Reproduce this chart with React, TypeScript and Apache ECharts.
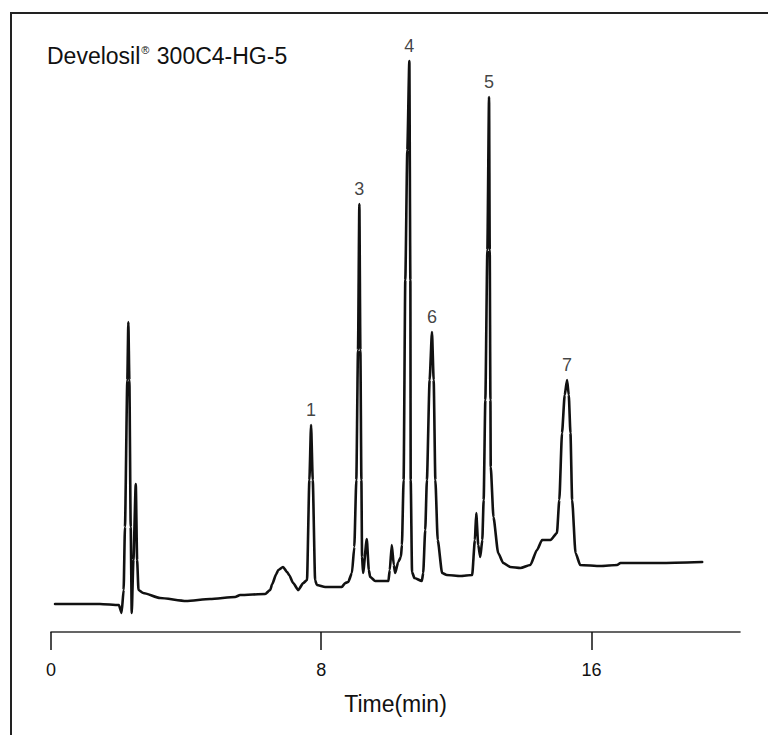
import React, { useEffect, useRef } from "react";
import * as echarts from "echarts";

// Chromatogram trace: retention time (min) and detector signal (arbitrary units)
const timeMin: number[] = [
  0.12, 1.45, 2.01, 2.09, 2.15, 2.19, 2.26, 2.29, 2.32, 2.36, 2.39, 2.44, 2.51, 2.55, 2.59,
  2.73, 3.23, 4.0, 4.71, 5.45, 5.6, 6.34, 6.49, 6.55, 6.67, 6.73, 6.87, 6.99, 7.05, 7.17,
  7.32, 7.47, 7.58, 7.65,
  7.7, 7.75, 7.82, 7.87, 8.12, 8.61, 8.71, 8.8, 8.91, 8.98, 9.04, 9.09, 9.13, 9.16, 9.19,
  9.21, 9.24, 9.35, 9.41, 9.45, 9.6, 9.99, 10.03, 10.09, 10.15, 10.19, 10.28, 10.36, 10.39,
  10.44, 10.49, 10.55, 10.61, 10.64, 10.65, 10.69, 10.76, 10.98, 11.02, 11.08, 11.13, 11.21,
  11.28, 11.33, 11.38, 11.45, 11.58, 11.72, 12.12, 12.47, 12.55, 12.59, 12.65, 12.71, 12.77,
  12.81, 12.86, 12.92, 12.97, 12.99, 13.01, 13.02, 13.1, 13.24, 13.39, 13.6, 13.9, 14.19,
  14.39, 14.54, 14.79, 14.98, 15.05, 15.13, 15.21, 15.28, 15.33, 15.38, 15.43, 15.53, 15.67,
  16.27, 16.76, 16.86, 18.04, 19.28,
];
const signal: number[] = [
  28, 28, 27, 19, 42, 105, 252, 310, 252, 105, 19, 72, 148, 72, 42,
  39, 34, 31, 33, 35, 37, 38, 42, 48, 58, 62, 65, 60, 57, 49,
  42, 49, 52, 152,
  207, 152, 52, 47, 45, 45, 49, 50, 59, 85, 152, 282, 428, 282, 152,
  75, 59, 93, 62, 55, 51, 51, 62, 87, 67, 59, 70, 75, 87,
  152, 352, 482, 571, 352, 152, 60, 54, 51, 59, 102, 152, 252,
  300, 252, 152, 92, 59, 57, 56, 57, 92, 119, 87, 75, 92,
  132, 232, 382, 535, 382, 232, 165, 115, 79, 69, 65, 64, 67,
  82, 92, 92, 99, 132, 199, 237, 252, 237, 199, 132, 79, 67,
  66, 67, 69, 69, 70,
];

// Numbered peaks
const peakNames: string[] = ["1", "3", "4", "5", "6", "7"];
const peakTimes: number[] = [7.7, 9.13, 10.61, 12.97, 11.28, 15.28];
const peakHeights: number[] = [207, 428, 571, 535, 300, 252];

const xTicks: number[] = [0, 8, 16];

const FONT = "'Liberation Sans', Arial, Helvetica, sans-serif";

export default function App() {
  const ref = useRef<HTMLDivElement>(null);

  useEffect(() => {
    if (!ref.current) return;
    const chart = echarts.init(ref.current, undefined, { renderer: "svg" });
    const lineData = timeMin.map((t, i) => [t, signal[i]]);
    const peakData = peakTimes.map((t, i) => ({ value: [t, peakHeights[i]], name: peakNames[i] }));

    chart.setOption({
      animation: false,
      backgroundColor: "#ffffff",
      title: {
        text: "Develosil{sup|®} 300C4-HG-5",
        left: 47,
        top: 44,
        padding: 0,
        textStyle: {
          fontFamily: FONT,
          fontSize: 23,
          fontWeight: "normal",
          color: "#111",
          rich: {
            sup: { fontFamily: FONT, fontSize: 11, color: "#111", verticalAlign: "top", padding: [0, 1, 10, 1] },
          },
        },
      },
      graphic: [
        {
          type: "rect",
          shape: { x: 11, y: 13, width: 800, height: 800 },
          style: { fill: "none", stroke: "#222", lineWidth: 2 },
          silent: true,
        },
      ],
      grid: { left: 51, right: 28, top: 12, bottom: 103 },
      xAxis: {
        type: "value",
        min: 0,
        max: 20.4,
        interval: 8,
        name: "Time(min)",
        nameLocation: "middle",
        nameGap: 60,
        nameTextStyle: { fontFamily: FONT, fontSize: 23, color: "#111" },
        axisLine: { show: true, onZero: false, lineStyle: { color: "#333", width: 1.6 } },
        axisTick: { show: true, length: 18, customValues: xTicks, lineStyle: { color: "#111", width: 1.5 } },
        axisLabel: {
          customValues: xTicks,
          margin: 29,
          fontFamily: FONT,
          fontSize: 18,
          color: "#111",
        },
        splitLine: { show: false },
      },
      yAxis: {
        type: "value",
        min: 0,
        max: 620,
        show: false,
        splitLine: { show: false },
      },
      series: [
        {
          type: "line",
          data: lineData,
          showSymbol: false,
          symbol: "none",
          smooth: 0.2,
          smoothMonotone: "x",
          lineStyle: { color: "#111", width: 2.6, join: "round", cap: "round" },
          z: 3,
        },
        {
          type: "scatter",
          data: peakData,
          symbolSize: 0,
          label: {
            show: true,
            position: "top",
            distance: 6,
            formatter: (p: any) => p.name,
            fontFamily: FONT,
            fontSize: 18,
            color: "#111",
          },
          z: 4,
        },
      ],
    });
    return () => chart.dispose();
  }, []);

  return (
    <div
      ref={ref}
      style={{ position: "fixed", left: 0, top: 0, width: 768, height: 735, background: "#fff" }}
    />
  );
}
